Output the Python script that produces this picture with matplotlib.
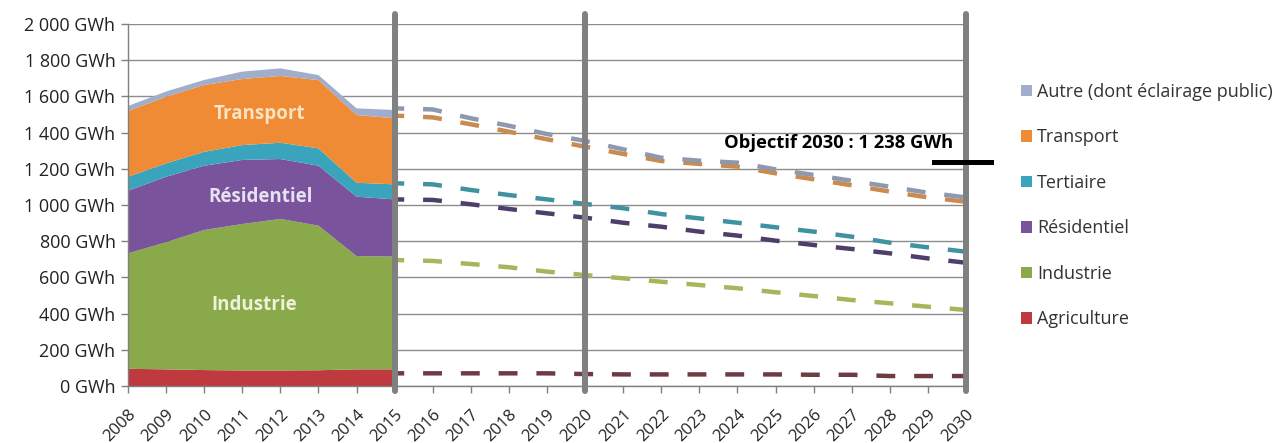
import numpy as np
import matplotlib
matplotlib.use("Agg")
import matplotlib.pyplot as plt
from matplotlib.patches import Patch

plt.rcParams["font.family"] = ["Open Sans", "DejaVu Sans"]

# historical consumption by sector (GWh), stacked areas
years_hist = [2008, 2009, 2010, 2011, 2012, 2013, 2014, 2015]
agriculture = [95, 92, 88, 86, 86, 87, 92, 92]
industrie = [638, 702, 774, 809, 837, 799, 626, 623]
residentiel = [346, 362, 355, 354, 331, 331, 328, 316]
tertiaire = [77, 74, 77, 82, 90, 96, 77, 83]
transport = [363, 368, 369, 365, 369, 377, 374, 365]
autre = [28, 29, 28, 41, 42, 28, 37, 46]

# projections 2015-2030 (cumulative levels, GWh)
years_proj = list(range(2015, 2031))
proj_autre = [1534, 1528, 1479, 1438, 1392, 1354, 1308, 1261, 1245, 1234, 1197, 1166, 1134, 1101, 1068, 1042]
proj_transport = [1494, 1484, 1446, 1405, 1363, 1322, 1282, 1243, 1227, 1212, 1175, 1142, 1109, 1074, 1042, 1018]
proj_tertiaire = [1120, 1114, 1083, 1055, 1031, 1006, 982, 950, 926, 902, 877, 853, 825, 792, 766, 742]
proj_residentiel = [1031, 1028, 1004, 978, 954, 930, 902, 880, 853, 831, 803, 779, 757, 733, 705, 681]
proj_industrie = [696, 691, 674, 656, 632, 613, 595, 576, 558, 540, 518, 497, 475, 457, 438, 420]
proj_agriculture = [70, 70, 70, 70, 70, 66, 64, 64, 64, 64, 64, 62, 62, 55, 55, 55]

objectif_2030 = 1238
milestones = [2015, 2020, 2030]

labels = ["Agriculture", "Industrie", "Résidentiel", "Tertiaire", "Transport",
          "Autre (dont éclairage public)"]
area_colors = ["#be3a3e", "#89a94b", "#7a539d", "#3ba4bd", "#ef8a35", "#a0aecb"]
dash_colors = ["#6e3a44", "#aab45a", "#4e3f6a", "#3f929f", "#c98b4e", "#8e98ae"]

fig = plt.figure(figsize=(12.81, 4.43), dpi=100)
ax = fig.add_axes([128 / 1281, 57 / 443, 838 / 1281, 362 / 443])

ax.stackplot(years_hist, agriculture, industrie, residentiel, tertiaire, transport, autre,
             colors=area_colors, linewidth=0, zorder=2)

projs = [proj_agriculture, proj_industrie, proj_residentiel, proj_tertiaire,
         proj_transport, proj_autre]
for vals, c in zip(projs, dash_colors):
    ax.plot(years_proj, vals, color=c, lw=3.2, linestyle=(2.1, (4.25, 4.25)),
            dash_capstyle="butt", zorder=3)

for yr in milestones:
    ax.plot([yr, yr], [-30, 2055], color="#808080", lw=4.3, solid_capstyle="round",
            clip_on=False, zorder=4)

ax.plot([2029.16, 2030.66], [objectif_2030, objectif_2030], color="black", lw=3.6,
        clip_on=False, zorder=5)
ax.text(2029.66, 1342, "Objectif 2030 : 1 238 GWh", ha="right", va="center",
        fontsize=13.2, fontweight="bold", color="black", zorder=5)

ax.text(2011.44, 1503, "Transport", ha="center", va="center", fontsize=13.5,
        fontweight="bold", color="#fde3c2", zorder=3)
ax.text(2011.47, 1044, "Résidentiel", ha="center", va="center", fontsize=13.5,
        fontweight="bold", color="#e8e0f0", zorder=3)
ax.text(2011.31, 447, "Industrie", ha="center", va="center", fontsize=13.5,
        fontweight="bold", color="#eef3d8", zorder=3)

ax.set_xlim(2008, 2030)
ax.set_ylim(0, 2000)
ax.set_yticks(range(0, 2001, 200))
ax.set_yticklabels([f"{v:,} GWh".replace(",", " ") for v in range(0, 2001, 200)])
ax.set_xticks(years_hist + years_proj[1:])
ax.set_xticklabels([str(y) for y in years_hist + years_proj[1:]], rotation=45,
                   ha="right", rotation_mode="anchor")
ax.tick_params(axis="both", colors="#808080", labelcolor="#222222", length=5, width=1)
ax.tick_params(axis="y", labelsize=13, pad=4)
ax.tick_params(axis="x", labelsize=12, pad=10)
ax.yaxis.grid(True, color="#8c8c8c", lw=1.0, zorder=0)
ax.set_axisbelow(True)
for s in ["top", "right"]:
    ax.spines[s].set_visible(False)
for s in ["left", "bottom"]:
    ax.spines[s].set_color("#808080")
    ax.spines[s].set_linewidth(1.0)

handles = [Patch(facecolor=c, edgecolor="none") for c in area_colors[::-1]]
fig.legend(handles, labels[::-1], loc="upper left", bbox_to_anchor=(1012 / 1281, 1 - 74 / 443),
           frameon=False, fontsize=13, handlelength=0.6, handleheight=0.6,
           handletextpad=0.3, labelspacing=1.52, borderpad=0, labelcolor="#333333")

fig.savefig("out.png", dpi=100)
